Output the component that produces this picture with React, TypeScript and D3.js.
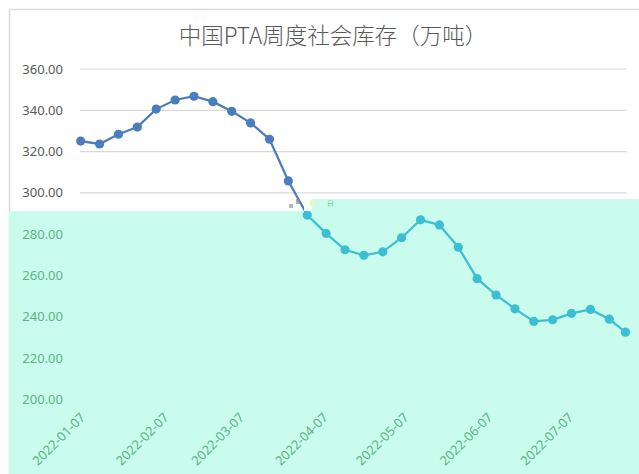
import React from "react";
import * as d3 from "d3";

const TITLE = "中国PTA周度社会库存（万吨）";

const dates: string[] = [
  "2022-01-07", "2022-01-14", "2022-01-21", "2022-01-28", "2022-02-04", "2022-02-11",
  "2022-02-18", "2022-02-25", "2022-03-04", "2022-03-11", "2022-03-18", "2022-03-25",
  "2022-04-01", "2022-04-08", "2022-04-15", "2022-04-22", "2022-04-29", "2022-05-06",
  "2022-05-13", "2022-05-20", "2022-05-27", "2022-06-03", "2022-06-10", "2022-06-17",
  "2022-06-24", "2022-07-01", "2022-07-08", "2022-07-15", "2022-07-22", "2022-07-28",
];

const inventory: number[] = [
  325.1, 323.7, 328.4, 331.9, 340.6, 345.0, 346.8, 344.2, 339.5, 333.9, 326.0, 305.8,
  289.3, 280.4, 272.5, 269.8, 271.5, 278.3, 287.0, 284.5, 273.7, 258.5, 250.6, 243.9,
  237.8, 238.6, 241.7, 243.6, 238.9, 232.6,
];

const xTickLabels: string[] = [
  "2022-01-07", "2022-02-07", "2022-03-07", "2022-04-07", "2022-05-07", "2022-06-07", "2022-07-07",
];

const yTicks: number[] = [200, 220, 240, 260, 280, 300, 320, 340, 360];

const W = 639;
const H = 474;

export default function App() {
  const parse = d3.timeParse("%Y-%m-%d");
  const pts = dates.map((d, i) => ({ date: parse(d) as Date, v: inventory[i] }));
  const x = d3
    .scaleTime()
    .domain([pts[0].date, pts[pts.length - 1].date])
    .range([80.7, 625.5]);
  const y = d3.scaleLinear().domain([200, 360]).range([399.5, 69]);
  const line = d3
    .line<{ date: Date; v: number }>()
    .x((d) => x(d.date))
    .y((d) => y(d.v));
  const path = line(pts) || "";

  const mintTop = 211;
  const font = "'Noto Sans', 'Open Sans', sans-serif";

  return (
    <svg
      width={W}
      height={H}
      style={{ position: "absolute", left: 0, top: 0, background: "#fff" }}
    >
      <defs>
        <clipPath id="mintClip">
          <rect x={9} y={mintTop} width={W - 9} height={H - mintTop} />
          <rect x={312} y={199} width={W - 312} height={mintTop - 199 + 1} />
        </clipPath>
      </defs>
      <rect x={0} y={0} width={W} height={H} fill="#fff" />
      {/* chart frame */}
      <line x1={9.5} x2={W} y1={9.5} y2={9.5} stroke="#d9d9d9" strokeWidth={1.5} />
      <line x1={9.5} x2={9.5} y1={9.5} y2={H} stroke="#d9d9d9" strokeWidth={1.5} />

      <text
        x={333}
        y={44}
        textAnchor="middle"
        fontFamily="'Noto Sans CJK SC', sans-serif"
        fontWeight={300}
        fontSize={22.5}
        fill="#595959"
      >
        {TITLE}
      </text>

      {/* gridlines */}
      {yTicks.map((t) => (
        <line
          key={"g" + t}
          x1={80}
          x2={626.5}
          y1={y(t)}
          y2={y(t)}
          stroke="#d9d9d9"
          strokeWidth={1.2}
        />
      ))}
      {/* y labels */}
      {yTicks
        .filter((t) => y(t) <= mintTop)
        .map((t) => (
          <text
            key={"yl" + t}
            x={63}
            y={y(t)}
            dy="0.35em"
            textAnchor="end"
            fontFamily={font}
            fontSize={13}
            fill="#595959"
          >
            {t.toFixed(2)}
          </text>
        ))}

      {/* blue series */}
      <path d={path} fill="none" stroke="#4a7ebb" strokeWidth={2.25} />
      {pts.map((p, i) => (
        <circle key={"b" + i} cx={x(p.date)} cy={y(p.v)} r={4.6} fill="#4a7ebb" />
      ))}

      {/* mint overlay */}
      <rect x={9} y={mintTop} width={W - 9} height={H - mintTop} fill="#c9fcec" />
      <rect x={312} y={199} width={W - 312} height={mintTop - 199} fill="#c9fcec" />
      <rect x={304} y={199} width={8} height={12} fill="#f4fff8" />
      <rect x={310} y={200} width={3} height={6} fill="#f8f4b8" />
      <rect x={289} y={204} width={4} height={4} fill="#9a9a9a" opacity={0.7} />
      <rect x={296} y={199} width={4} height={5} fill="#8a8a8a" opacity={0.7} />
      <text x={330} y={206} fontSize={7} fill="#55c070" textAnchor="middle" fontFamily={font}>
        日
      </text>

      {/* y labels inside mint */}
      {yTicks
        .filter((t) => y(t) > mintTop)
        .map((t) => (
          <text
            key={"yl2" + t}
            x={63}
            y={y(t)}
            dy="0.35em"
            textAnchor="end"
            fontFamily={font}
            fontSize={13}
            fill="#5cb585"
          >
            {t.toFixed(2)}
          </text>
        ))}

      {/* cyan series in mint */}
      <g clipPath="url(#mintClip)">
        <path d={path} fill="none" stroke="#3cbfd2" strokeWidth={2.25} />
        {pts.map((p, i) => (
          <circle key={"c" + i} cx={x(p.date)} cy={y(p.v)} r={4.6} fill="#3cbfd2" />
        ))}
      </g>

      {/* x labels */}
      {xTickLabels.map((s) => {
        const tx = x(parse(s) as Date) + 2;
        const ty = 415;
        return (
          <text
            key={"xl" + s}
            transform={`translate(${tx},${ty}) rotate(-45)`}
            textAnchor="end"
            dy="0.35em"
            fontFamily={font}
            fontSize={13}
            fill="#5cb585"
          >
            {s}
          </text>
        );
      })}
    </svg>
  );
}
